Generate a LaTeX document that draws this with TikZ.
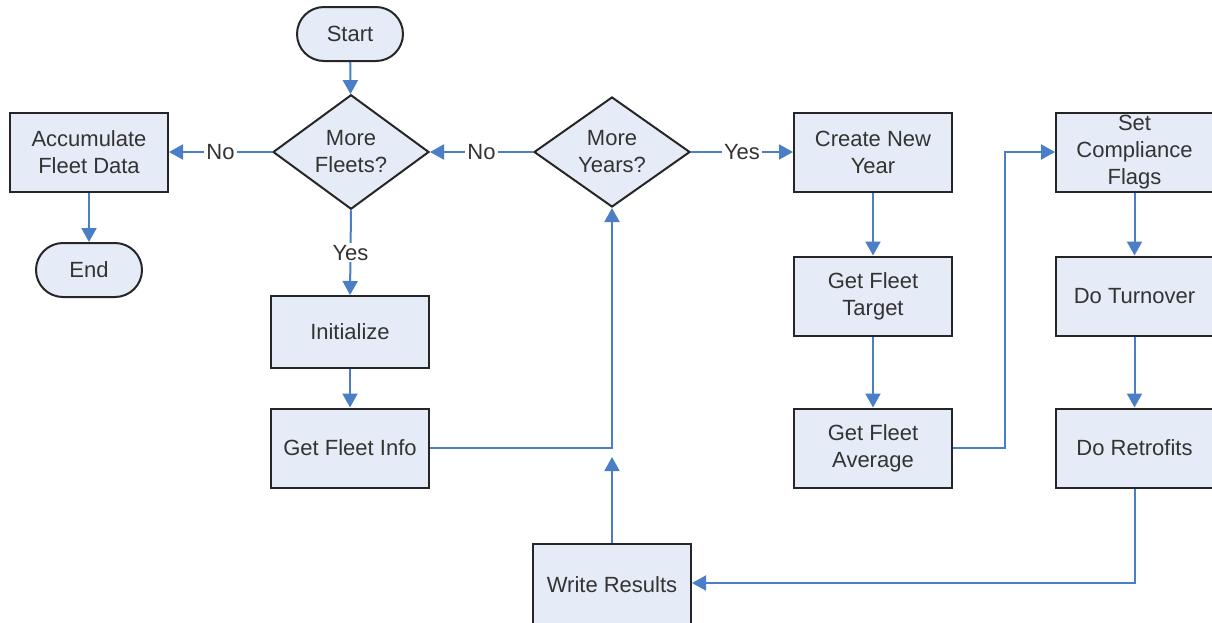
\documentclass[tikz,border=0pt]{standalone}
\usepackage{fontspec}
\setmainfont{Liberation Sans}
\usetikzlibrary{shapes.geometric,arrows.meta}
\definecolor{boxfill}{HTML}{E6ECF7}
\definecolor{boxline}{HTML}{262626}
\definecolor{arrblue}{HTML}{4A7EC6}
\tikzset{
  base/.style={draw=boxline, fill=boxfill, line width=2pt, align=center,
    font=\fontsize{22}{27}\selectfont, text=black!80, inner sep=0pt},
  procbox/.style={base, rectangle, minimum width=158pt, minimum height=79pt},
  termbox/.style={base, rectangle, rounded corners=27pt, minimum width=106pt, minimum height=54pt},
  decbox/.style={base, diamond, minimum width=156pt, minimum height=104pt},
  arr/.style={draw=arrblue, line width=2pt, -{Triangle[length=14pt,width=15pt]}},
  lbl/.style={fill=white, inner sep=2pt, font=\fontsize{22}{27}\selectfont, text=black!80}
}
\begin{document}
\begin{tikzpicture}[x=1pt,y=-1pt]
\useasboundingbox[fill=white] (0,0) rectangle (1212,622);
% nodes
\node[termbox] (start) at (350,34) {Start};
\node[decbox] (mf) at (351,152) {More\\Fleets?};
\node[procbox] (acc) at (89,152) {Accumulate\\Fleet Data};
\node[termbox] (end) at (89,270) {End};
\node[procbox, minimum height=72pt] (init) at (350,332) {Initialize};
\node[procbox] (gfi) at (350,448) {Get Fleet Info};
\node[decbox] (my) at (612,152) {More\\Years?};
\node[procbox] (cny) at (873,152) {Create New\\Year};
\node[procbox] (gft) at (873,296) {Get Fleet\\Target};
\node[procbox] (gfa) at (873,448) {Get Fleet\\Average};
\node[procbox, minimum width=157pt] (scf) at (1134.5,152) {Set\\Compliance\\Flags};
\node[procbox, minimum width=157pt] (dt) at (1134.5,296) {Do Turnover};
\node[procbox, minimum width=157pt] (dr) at (1134.5,448) {Do Retrofits};
\node[procbox, minimum height=82pt] (wr) at (612,585) {Write Results};
\coordinate (wrtip) at (612,457);
% connectors
\draw[arr] (start) -- (mf);
\draw[arr] (mf.west) -- node[lbl] {No} (acc.east);
\draw[arr] (acc) -- (end);
\draw[arr] (mf.south) -- node[lbl] {Yes} (init.north);
\draw[arr] (init) -- (gfi);
\draw[arr] (gfi.east) -| (my.south);
\draw[arr] (wr.north) -- (wrtip);
\draw[arr] (my.west) -- node[lbl] {No} (mf.east);
\draw[arr] (my.east) -- node[lbl] {Yes} (cny.west);
\draw[arr] (cny) -- (gft);
\draw[arr] (gft) -- (gfa);
\draw[arr] (gfa.east) -- ++(52,0) |- (scf.west);
\draw[arr] (scf) -- (dt);
\draw[arr] (dt) -- (dr);
\draw[arr] (dr.south) |- ([yshift=2pt]wr.east);
\end{tikzpicture}
\end{document}
